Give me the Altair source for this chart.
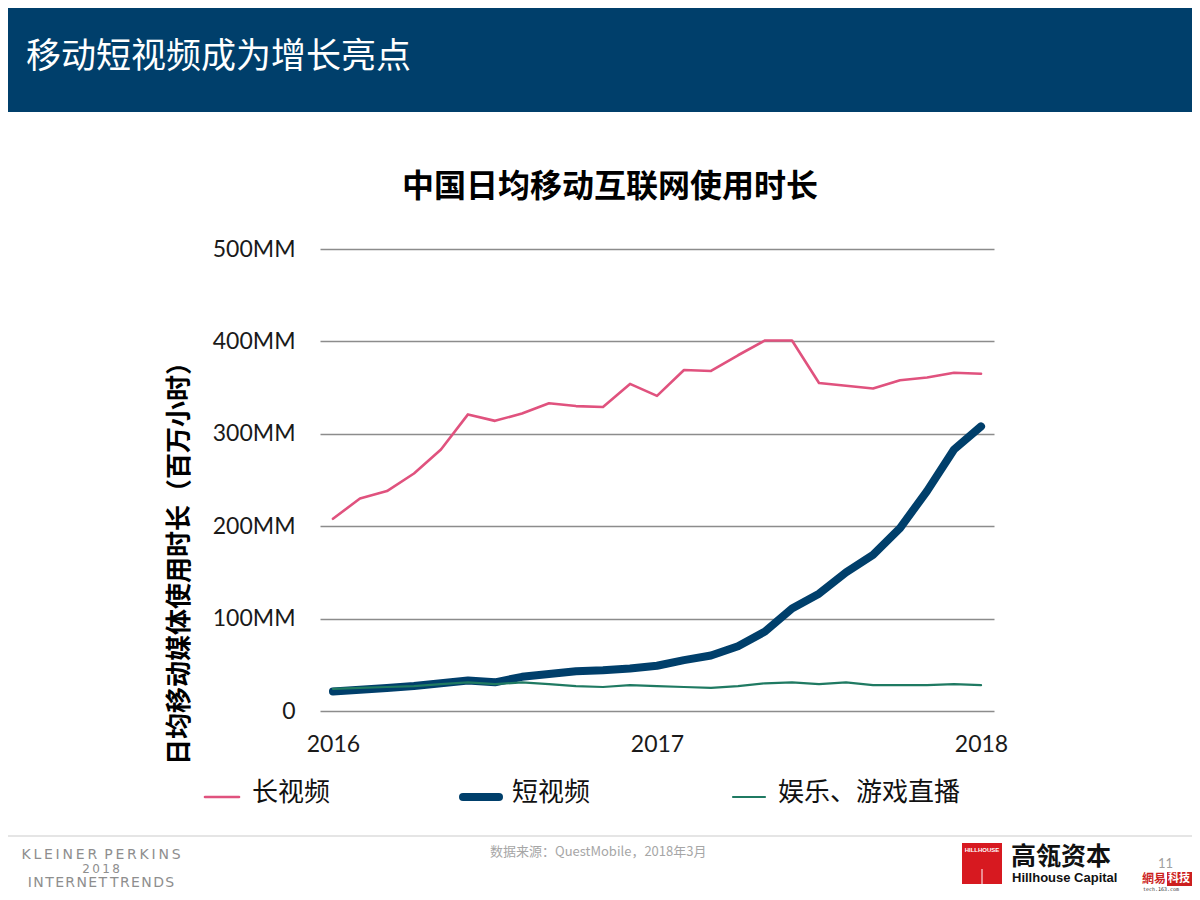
import altair as alt
import pandas as pd

# ---------------- data ----------------
month_index = list(range(25))  # Jan 2016 .. Jan 2018, monthly
year_tick_values = [0, 12, 24]
year_tick_labels = ["2016", "2017", "2018"]

series_names = ["长视频", "短视频", "娱乐、游戏直播"]
series_colors = ["#e0527e", "#003f6b", "#1f7a62"]
series_widths = [2.6, 8, 2.2]

long_video = [208, 230, 238, 257, 283, 321, 314, 322, 333, 330, 329, 354,
              341, 369, 368, 385, 401, 401, 355, 352, 349, 358, 361, 366, 365]
short_video = [21, 23, 25, 27, 30, 33, 31, 37, 40, 43, 44, 46,
               49, 55, 60, 70, 86, 111, 127, 150, 169, 198, 238, 283, 308]
live_games = [24, 25, 26, 27, 29, 31, 29, 31, 29, 27, 26, 28,
              27, 26, 25, 27, 30, 31, 29, 31, 28, 28, 28, 29, 28]

y_ticks = [0, 100, 200, 300, 400, 500]

page_title = "移动短视频成为增长亮点"
chart_title = "中国日均移动互联网使用时长"
y_title = "日均移动媒体使用时长（百万小时）"
source_text = "数据来源：QuestMobile，2018年3月"

# ---------------- layout helpers (page px -> view px) ----------------
OX, OY = 320, 249          # plot-area origin on the page
W, H = 674, 462


def rx(px):
    return px - OX


def ry(py):
    return py - OY


def spaced(word_list, gap="\u2009", word_gap="\u2002\u2002"):
    return word_gap.join(gap.join(list(w)) for w in word_list)


CJK = "Noto Sans CJK SC"
LAT = "Lato"

one = pd.DataFrame({"k": [0]})
base = alt.Chart(one)

# ---------------- main series ----------------
rows = []
for name, vals in zip(series_names, [long_video, short_video, live_games]):
    for m, v in zip(month_index, vals):
        rows.append({"month": m, "value": v, "series": name})
df = pd.DataFrame(rows)

x_scale = alt.Scale(domain=[-0.48, 24.48], nice=False, zero=False)
y_scale = alt.Scale(domain=[0, 500], nice=False)

label_expr = " : ".join(
    [f"datum.value == {v} ? '{l}'" for v, l in zip(year_tick_values, year_tick_labels)]
) + " : ''"

grid_layer = alt.Chart(df).mark_line(opacity=0).encode(
    x=alt.X("month:Q", scale=x_scale,
            axis=alt.Axis(values=year_tick_values, labelExpr=label_expr, title=None,
                          grid=False, ticks=False, domain=False, labelFontSize=23,
                          labelFont=LAT, labelColor="#1a1a1a", labelPadding=22,
                          labelFlush=False)),
    y=alt.Y("value:Q", scale=y_scale,
            axis=alt.Axis(values=y_ticks, title=None, grid=True, gridColor="#8c8c8c",
                          gridWidth=1.4, ticks=False, domain=False, labelFontSize=23,
                          labelFont=LAT, labelColor="#1a1a1a", labelPadding=25,
                          labelExpr="datum.value == 0 ? '0' : datum.value + 'MM'")),
)

line_layers = []
for name, color, width in zip(series_names, series_colors, series_widths):
    line_layers.append(
        alt.Chart(df).transform_filter(alt.datum.series == name).mark_line(
            color=color, strokeWidth=width, strokeCap="round", strokeJoin="round"
        ).encode(x=alt.X("month:Q", scale=x_scale), y=alt.Y("value:Q", scale=y_scale))
    )

# ---------------- header ----------------
header = base.mark_rect(color="#003f6b").encode(
    x=alt.value(rx(-10)), x2=alt.value(rx(1210)), y=alt.value(ry(-10)), y2=alt.value(ry(112))
)
header_text = base.mark_text(
    text=page_title, font=CJK, fontSize=35, color="white", align="left", baseline="middle"
).encode(x=alt.value(rx(26)), y=alt.value(ry(57)))

# ---------------- chart title + y title ----------------
title_text = base.mark_text(
    text=chart_title, font=CJK, fontSize=32, fontWeight="bold", color="#000000",
    align="center", baseline="middle"
).encode(x=alt.value(rx(610)), y=alt.value(ry(187)))

ytitle_text = base.mark_text(
    text=y_title, font=CJK, fontSize=26, fontWeight="bold", color="#000000",
    align="center", baseline="middle", angle=270
).encode(x=alt.value(rx(180)), y=alt.value(ry(557)))

# ---------------- legend ----------------
legend_line_x = [(205, 239), (463, 499), (733, 765)]
legend_text_x = [252, 512, 778]
legend_layers = []
for name, color, width, (x0, x1), tx in zip(series_names, series_colors, series_widths,
                                            legend_line_x, legend_text_x):
    legend_layers.append(
        base.mark_rule(color=color, strokeWidth=width, strokeCap="round").encode(
            x=alt.value(rx(x0)), x2=alt.value(rx(x1)), y=alt.value(ry(797)))
    )
    legend_layers.append(
        base.mark_text(text=name, font=CJK, fontSize=26, color="#111111",
                       align="left", baseline="middle").encode(
            x=alt.value(rx(tx)), y=alt.value(ry(793)))
    )

# ---------------- footer ----------------
footer_rule = base.mark_rule(color="#dcdcdc", strokeWidth=1.5).encode(
    x=alt.value(rx(-10)), x2=alt.value(rx(1210)), y=alt.value(ry(836))
)
kp_lines = [(spaced(["KLEINER", "PERKINS"], gap="\u200a\u200a", word_gap="\u2002"), 855, 14),
            (spaced(["2018"], gap="\u2009"), 869, 12),
            (spaced(["INTERNET", "TRENDS"], gap="\u200a", word_gap="\u2009"), 883, 14)]
kp_layers = [
    base.mark_text(text=t, font="DejaVu Sans", fontSize=fs, color="#8e8e8e",
                   align="center", baseline="middle").encode(
        x=alt.value(rx(101)), y=alt.value(ry(yy)))
    for t, yy, fs in kp_lines
]
source_layer = base.mark_text(
    text=source_text, font=CJK, fontSize=13, color="#a6a6a6", align="left", baseline="middle"
).encode(x=alt.value(rx(490)), y=alt.value(ry(852)))

hh_box = base.mark_rect(color="#d71920").encode(
    x=alt.value(rx(962)), x2=alt.value(rx(1002)), y=alt.value(ry(843)), y2=alt.value(ry(884))
)
hh_small = base.mark_text(text="HILLHOUSE", font="Liberation Sans", fontSize=6,
                          fontWeight="bold", color="white", align="center",
                          baseline="middle").encode(x=alt.value(rx(982)), y=alt.value(ry(850)))
hh_bar = base.mark_rule(color="white", strokeWidth=1).encode(
    x=alt.value(rx(982)), y=alt.value(ry(869)), y2=alt.value(ry(884))
)
hh_cn = base.mark_text(text="高瓴资本", font=CJK, fontSize=25, fontWeight="bold",
                       color="#111111", align="left", baseline="middle").encode(
    x=alt.value(rx(1011)), y=alt.value(ry(857)))
hh_en = base.mark_text(text="Hillhouse Capital", font="Liberation Sans", fontSize=13,
                       fontWeight="bold", color="#111111", align="left",
                       baseline="middle").encode(x=alt.value(rx(1012)), y=alt.value(ry(878)))
page_no = base.mark_text(text="11", font=LAT, fontSize=13, color="#a0a0a0", align="left",
                         baseline="middle").encode(x=alt.value(rx(1158)), y=alt.value(ry(864)))
wm_box = base.mark_rect(color="#cc1f1f").encode(
    x=alt.value(rx(1167)), x2=alt.value(rx(1192)), y=alt.value(ry(872)), y2=alt.value(ry(886))
)
wm1 = base.mark_text(text="網易", font=CJK, fontSize=12, fontWeight="bold",
                     color="#cc1f1f", align="left", baseline="middle").encode(
    x=alt.value(rx(1142)), y=alt.value(ry(879)))
wm1b = base.mark_text(text="科技", font=CJK, fontSize=11, fontWeight="bold",
                      color="white", align="left", baseline="middle").encode(
    x=alt.value(rx(1168)), y=alt.value(ry(879)))
wm2 = base.mark_text(text="tech.163.com", font="DejaVu Sans Mono", fontSize=5, color="#333333",
                     align="left", baseline="middle").encode(
    x=alt.value(rx(1143)), y=alt.value(ry(889)))

chart = alt.layer(
    header, header_text, title_text, ytitle_text,
    grid_layer, *line_layers, *legend_layers,
    footer_rule, *kp_layers, source_layer,
    hh_box, hh_small, hh_bar, hh_cn, hh_en, page_no, wm_box, wm1, wm1b, wm2,
).properties(
    width=W, height=H,
    autosize=alt.AutoSizeParams(type="none"),
    padding={"left": OX - 8, "top": OY - 8, "right": 1192 - (OX + W), "bottom": 892 - (OY + H)},
    background="white",
).configure_view(stroke=None)

chart.save("out.html", embed_options={"renderer": "svg", "actions": False})
